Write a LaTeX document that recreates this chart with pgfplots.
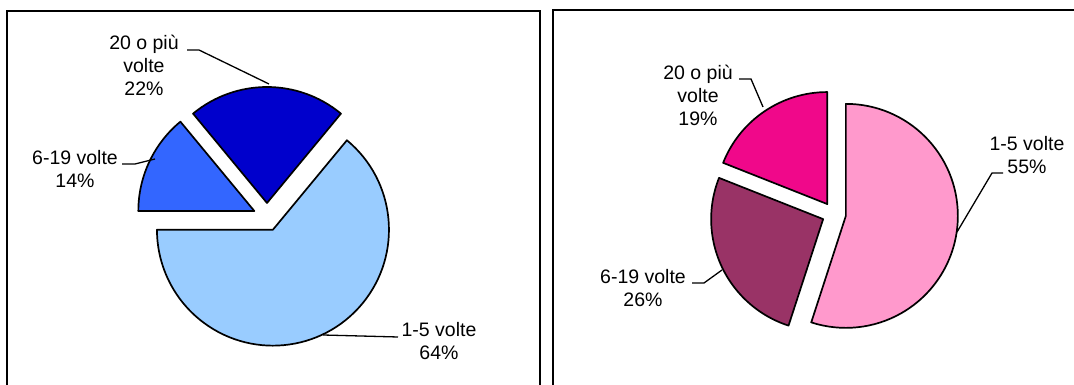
\documentclass[border=0pt]{standalone}
\usepackage{pgfplots}
\pgfplotsset{compat=1.18}
\usepackage{fontspec}
\setmainfont{Liberation Sans}
\definecolor{lb1}{HTML}{99CCFF}
\definecolor{lb2}{HTML}{3366FF}
\definecolor{lb3}{HTML}{0000CC}
\definecolor{rp1}{HTML}{FF99CC}
\definecolor{rp2}{HTML}{993366}
\definecolor{rp3}{HTML}{F0088A}
% pie: #1 cx, #2 cy, #3 radius, #4 explode, #5 start angle, #6 list value/colour (clockwise)
\newcommand{\drawpie}[6]{%
  \xdef\pieang{#5}%
  \foreach \v/\c in {#6}{%
    \pgfmathsetmacro{\aend}{\pieang-3.6*\v}%
    \pgfmathsetmacro{\mang}{(\pieang+\aend)/2}%
    \pgfmathsetmacro{\ax}{#1+#4*cos(\mang)}%
    \pgfmathsetmacro{\ay}{#2+#4*sin(\mang)}%
    \edef\temp{\noexpand\filldraw[fill=\c,draw=black,line width=1.7pt,line join=round]
      (axis cs:\ax,\ay) -- ++(\pieang:#3pt) arc[start angle=\pieang,end angle=\aend,radius=#3pt] -- cycle;}%
    \temp
    \xdef\pieang{\aend}%
  }}
\begin{document}
\begin{tikzpicture}
\useasboundingbox (0,0) rectangle (1074pt,385pt);
\begin{axis}[
  at={(0,0)}, anchor=south west,
  x=1pt, y=1pt,
  xmin=0, xmax=1074, ymin=0, ymax=385,
  hide axis, clip=false,
]
% panel frames
\draw[line width=1.6pt] (axis cs:7,-5) -- (axis cs:7,374) -- (axis cs:540,374) -- (axis cs:540,-5);
\draw[line width=1.6pt] (axis cs:553,-5) -- (axis cs:553,375) -- (axis cs:1080,375);
% left pie: 1-5 volte, 6-19 volte, 20 o più
\drawpie{267}{168}{116}{14}{50.4}{64/lb1,14/lb2,22/lb3}
% right pie
\drawpie{834}{171}{112}{12}{90}{55/rp1,26/rp2,19/rp3}
% leader lines
\draw[line width=1.3pt] (axis cs:187,335) -- (axis cs:199,335) -- (axis cs:269,301);
\draw[line width=1.3pt] (axis cs:122,221) -- (axis cs:135,221) -- (axis cs:155,226);
\draw[line width=1.3pt] (axis cs:398,48) -- (axis cs:323,50);
\draw[line width=1.3pt] (axis cs:739,306) -- (axis cs:751,306) -- (axis cs:763,278);
\draw[line width=1.3pt] (axis cs:692,102) -- (axis cs:704,102) -- (axis cs:722,115);
\draw[line width=1.3pt] (axis cs:1003,212) -- (axis cs:992,212) -- (axis cs:957,153);
% labels
\tikzset{lbl/.style={align=center,inner sep=0pt,font=\fontsize{19.5}{23}\selectfont}}
\node[lbl] at (axis cs:144,320) {20 o più\\volte\\22\%};
\node[lbl] at (axis cs:75,216) {6-19 volte\\14\%};
\node[lbl] at (axis cs:439,44) {1-5 volte\\64\%};
\node[lbl] at (axis cs:698,290) {20 o più\\volte\\19\%};
\node[lbl] at (axis cs:643,97) {6-19 volte\\26\%};
\node[lbl] at (axis cs:1027,230) {1-5 volte\\55\%};
\end{axis}
\end{tikzpicture}
\end{document}
